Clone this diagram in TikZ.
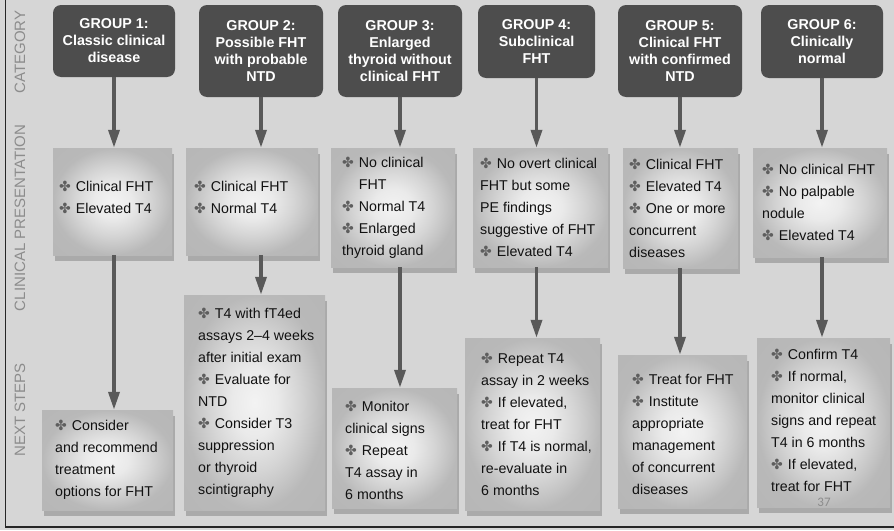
\documentclass[tikz,border=0pt]{standalone}
\usepackage{fontspec}
\setmainfont{Liberation Sans}
\newfontfamily\dejavu{DejaVu Sans}
\newfontfamily\carlito{Carlito}
\usetikzlibrary{arrows.meta,shadows}
\definecolor{bg}{HTML}{D6D6D6}
\definecolor{dark}{HTML}{4D4D4D}
\definecolor{arrc}{HTML}{595959}
\definecolor{lab}{HTML}{8C8C8C}
\definecolor{bulc}{HTML}{5E5E5E}
\definecolor{ink}{HTML}{111111}
\pgfdeclareradialshading{boxshade}{\pgfpoint{0bp}{0bp}}{%
  color(0bp)=(rgb:white,1;black,0.05);
  color(8bp)=(rgb:white,1;black,0.09);
  color(16bp)=(rgb:white,1;black,0.2);
  color(25bp)=(rgb:white,1;black,0.38);
  color(50bp)=(rgb:white,1;black,0.42)}
\newcommand{\bl}{{\dejavu\fontsize{14}{14}\selectfont\color{bulc}✤}\hspace{5pt}}
\newcommand{\bsp}{\phantom{\bl}}
\begin{document}
\begin{tikzpicture}[x=1pt,y=-1pt,
  cat/.style={rectangle, rounded corners=8pt, fill=dark, text=white,
    font=\bfseries\fontsize{14.3}{17}\selectfont, align=center, inner sep=0pt},
  cbox/.style={rectangle, inner sep=0pt, shading=boxshade,
    drop shadow={shadow xshift=2pt, shadow yshift=-6pt, opacity=0.5}},
  txt/.style={anchor=west, align=left, inner sep=0pt, text=ink,
    font=\fontsize{14.2}{22}\selectfont},
  arr/.style={line width=3.5pt, draw=arrc, -{Triangle[width=11pt,length=18pt]}},
  side/.style={rotate=90, text=lab, font=\fontsize{15}{15}\selectfont, inner sep=0pt}]
\useasboundingbox (0,0) rectangle (894,530);
\fill[bg] (0,0) rectangle (894,530);
\draw[line width=1.5pt, black!85] (5.5,0) -- (5.5,527) -- (894,527);

% side labels
\node[side] (lcat) at (20,52) {CATEGORY};
\node[side] (lcp) at (20,218) {CLINICAL PRESENTATION};
\node[side] (lns) at (20,410) {NEXT STEPS};

% category boxes
\node[cat, minimum width=122, minimum height=72] (g1) at (114,41) {GROUP 1:\\Classic clinical\\disease};
\node[cat, minimum width=124, minimum height=92] (g2) at (261,51) {GROUP 2:\\Possible FHT\\with probable\\NTD};
\node[cat, minimum width=124, minimum height=92] (g3) at (400,51) {GROUP 3:\\Enlarged\\thyroid without\\clinical FHT};
\node[cat, minimum width=117, minimum height=73] (g4) at (536.5,41.5) {GROUP 4:\\Subclinical\\FHT};
\node[cat, minimum width=124, minimum height=92] (g5) at (680,51) {GROUP 5:\\Clinical FHT\\with confirmed\\NTD};
\node[cat, minimum width=122, minimum height=73] (g6) at (822,41.5) {GROUP 6:\\Clinically\\normal};

% clinical presentation boxes
\node[cbox, minimum width=119, minimum height=107] (c1) at (112.5,201.5) {};
\node[cbox, minimum width=132, minimum height=107] (c2) at (252,201.5) {};
\node[cbox, minimum width=124, minimum height=119] (c3) at (393,207.5) {};
\node[cbox, minimum width=135, minimum height=119] (c4) at (540.5,207.5) {};
\node[cbox, minimum width=115, minimum height=120] (c5) at (680.5,208) {};
\node[cbox, minimum width=134, minimum height=109] (c6) at (820,202.5) {};

\node[txt] (c1t) at (59,197) {\bl Clinical FHT\\\bl Elevated T4};
\node[txt] (c2t) at (194,197) {\bl Clinical FHT\\\bl Normal T4};
\node[txt] (c3t) at (342,207.5) {\bl No clinical\\\bsp FHT\\\bl Normal T4\\\bl Enlarged\\thyroid gland};
\node[txt] (c4t) at (480,207.5) {\bl No overt clinical\\FHT but some\\PE findings\\suggestive of FHT\\\bl Elevated T4};
\node[txt] (c5t) at (629,208) {\bl Clinical FHT\\\bl Elevated T4\\\bl One or more\\concurrent\\diseases};
\node[txt] (c6t) at (762,202.5) {\bl No clinical FHT\\\bl No palpable\\nodule\\\bl Elevated T4};

% next steps boxes
\node[cbox, minimum width=131, minimum height=100] (n1) at (107.5,460) {};
\node[cbox, minimum width=141, minimum height=215] (n2) at (254.5,402.5) {};
\node[cbox, minimum width=125, minimum height=120] (n3) at (394.5,448) {};
\node[cbox, minimum width=135, minimum height=172] (n4) at (532.5,424) {};
\node[cbox, minimum width=129, minimum height=153] (n5) at (682.5,431.5) {};
\node[cbox, minimum width=133, minimum height=169] (n6) at (823.5,422.5) {};

\node[txt] (n1t) at (55,460) {\bl Consider\\and recommend\\treatment\\options for FHT};
\node[txt] (n2t) at (198,402.5) {\bl T4 with fT4ed\\assays 2--4 weeks\\after initial exam\\\bl Evaluate for\\NTD\\\bl Consider T3\\suppression\\or thyroid\\scintigraphy};
\node[txt] (n3t) at (345,450) {\bl Monitor\\clinical signs\\\bl Repeat\\T4 assay in\\6 months};
\node[txt] (n4t) at (481,424) {\bl Repeat T4\\assay in 2 weeks\\\bl If elevated,\\treat for FHT\\\bl If T4 is normal,\\re-evaluate in\\6 months};
\node[txt] (n5t) at (632,434) {\bl Treat for FHT\\\bl Institute\\appropriate\\management\\of concurrent\\diseases};
\node[txt] (n6t) at (771,420.5) {\bl Confirm T4\\\bl If normal,\\monitor clinical\\signs and repeat\\T4 in 6 months\\\bl If elevated,\\treat for FHT};

% arrows
\foreach \i in {1,...,6}{
  \draw[arr] (g\i.south) -- (g\i.south |- c\i.north);
  \draw[arr] (g\i.south |- c\i.south) -- (g\i.south |- n\i.north);
}

\node[font=\carlito\fontsize{13}{13}\selectfont, text=lab, inner sep=0pt] (pg) at (824,502) {37};
\end{tikzpicture}
\end{document}
